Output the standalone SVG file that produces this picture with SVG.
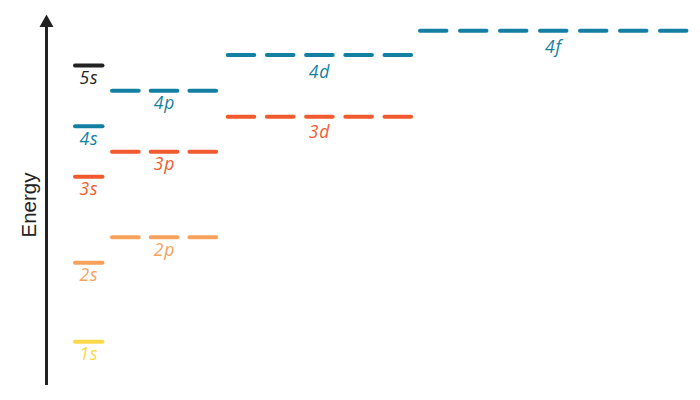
<svg xmlns="http://www.w3.org/2000/svg" width="700" height="400" viewBox="0 0 700 400">
  <style>
    .lvl { stroke-width: 4; stroke-linecap: round; fill: none; }
    .p { stroke-dasharray: 26.7 12; }
    .d { stroke-dasharray: 26.6 12.6; }
    .f { stroke-dasharray: 26.5 13.5; }
    .lbl { font-family: "Open Sans", "Liberation Sans", sans-serif; font-size: 17.5px; font-style: italic; letter-spacing: 1px; text-anchor: middle; }
    .k { stroke: #222222; } .tk { fill: #222222; }
    .b { stroke: #137fa3; } .tb { fill: #137fa3; }
    .r { stroke: #f15a2e; } .tr { fill: #f15a2e; }
    .o { stroke: #f8a15b; } .to { fill: #f8a15b; }
    .y { stroke: #fcd94a; } .ty { fill: #fcd94a; }
  </style>
  <rect width="700" height="400" fill="#ffffff"/>
  <g id="axis">
    <line x1="46.5" y1="385" x2="46.5" y2="25" stroke="#222222" stroke-width="3"/>
    <polygon points="46.5,14.5 39.5,27 53.5,27" fill="#222222"/>
    <text transform="translate(35.5,205) rotate(-90)" text-anchor="middle" font-family="Liberation Sans, Arial, sans-serif" font-size="20.5" fill="#222222">Energy</text>
  </g>
  <g id="connectors"/>
  <g id="n5s"><line class="lvl k" x1="75" y1="65.5" x2="102.5" y2="65.5"/><text class="lbl tk" x="89" y="84">5s</text></g>
  <g id="n4s"><line class="lvl b" x1="75" y1="126.3" x2="102.5" y2="126.3"/><text class="lbl tb" x="89" y="144.5">4s</text></g>
  <g id="n3s"><line class="lvl r" x1="75" y1="176.7" x2="102.5" y2="176.7"/><text class="lbl tr" x="89" y="195">3s</text></g>
  <g id="n2s"><line class="lvl o" x1="75" y1="262.7" x2="102.5" y2="262.7"/><text class="lbl to" x="89" y="281">2s</text></g>
  <g id="n1s"><line class="lvl y" x1="75" y1="341.7" x2="102.5" y2="341.7"/><text class="lbl ty" x="89" y="360">1s</text></g>
  <g id="n4p"><line class="lvl b p" x1="112" y1="90.7" x2="216.2" y2="90.7"/><text class="lbl tb" x="164.5" y="109">4p</text></g>
  <g id="n3p"><line class="lvl r p" x1="112" y1="151.7" x2="216.2" y2="151.7"/><text class="lbl tr" x="164.5" y="170">3p</text></g>
  <g id="n2p"><line class="lvl o p" x1="112" y1="237.3" x2="216.2" y2="237.3"/><text class="lbl to" x="164.5" y="255.5">2p</text></g>
  <g id="n4d"><line class="lvl b d" x1="227.7" y1="55" x2="411.2" y2="55"/><text class="lbl tb" x="319.5" y="77.5">4d</text></g>
  <g id="n3d"><line class="lvl r d" x1="227.7" y1="116.7" x2="411.2" y2="116.7"/><text class="lbl tr" x="319.5" y="138">3d</text></g>
  <g id="n4f"><line class="lvl b f" x1="420" y1="30.7" x2="686.5" y2="30.7"/><text class="lbl tb" x="553.5" y="53">4f</text></g>
</svg>
